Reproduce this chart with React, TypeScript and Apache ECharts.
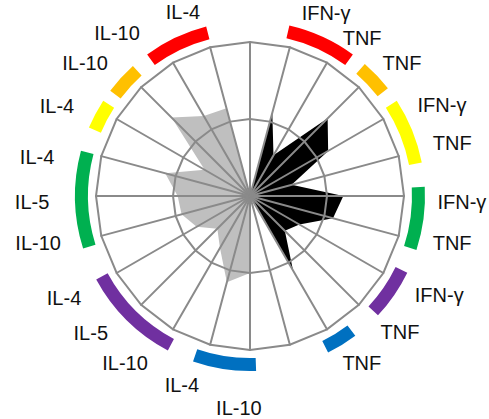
import { useEffect, useRef } from 'react';
import * as echarts from 'echarts';

// 24 spokes, 15° apart, listed clockwise from the top (0°, 15°, ..., 345°)
const SPOKE_COUNT = 24;
const BLACK_VALUES = [
  0, 0.56, 0.305, 0.713, 0.586, 0.28, 0.606, 0.558, 0.37, 0.32, 0.56, 0,
  0, 0, 0, 0, 0, 0, 0, 0, 0, 0, 0, 0,
];
const GREY_VALUES = [
  0, 0, 0, 0, 0, 0, 0, 0, 0, 0, 0, 0,
  0.5, 0.58, 0.39, 0.3, 0.4, 0.46, 0.47, 0.57, 0.34, 0.72, 0.6, 0.59,
];

// coloured ribbons: angular extent (degrees clockwise from top)
const ARC_COLORS = ['#ff0000', '#ffc000', '#ffff00', '#00b050', '#7030a0', '#0070c0',
  '#0070c0', '#7030a0', '#00b050', '#ffff00', '#ffc000', '#ff0000'];
const ARC_FROM = [13, 41, 57, 87, 116, 143, 178, 208, 252.5, 293, 307, 324];
const ARC_TO = [36, 52, 79, 108, 133, 153.5, 199, 241.5, 285, 303, 318, 345.5];

// cytokine labels
const LABEL_TEXTS = [
  'IFN-γ', 'TNF', 'TNF', 'IFN-γ', 'TNF', 'IFN-γ', 'TNF', 'IFN-γ', 'TNF', 'TNF',
  'IL-10', 'IL-4', 'IL-10', 'IL-5', 'IL-4', 'IL-10', 'IL-5', 'IL-4', 'IL-4', 'IL-10', 'IL-10', 'IL-4',
];
// label placement: [angle clockwise from top (deg), distance from centre (px)]
const LABEL_LAYOUT: [number, number][] = [
  [22.6, 198], [35.3, 194], [48.8, 202], [64.6, 212.5], [75.3, 209], [91.6, 212], [103.1, 207.5],
  [117.6, 213.5], [132.2, 202.5], [146.2, 201],
  [183, 212], [199.8, 201], [216.8, 208.6], [229.3, 210], [241.3, 212], [257.5, 217], [268.4, 218],
  [280.4, 216.5], [295, 213], [308.9, 212], [320.8, 210.4], [340, 196],
];

const CX = 250;
const CY = 196;
const RADIUS = 154;

const toRadarOrder = (vals: number[]) =>
  vals.map((_, k) => vals[(SPOKE_COUNT - k) % SPOKE_COUNT]);

export default function App() {
  const ref = useRef<HTMLDivElement>(null);

  useEffect(() => {
    if (!ref.current) return;
    const chart = echarts.init(ref.current, undefined, { renderer: 'svg' });
    const rad = (d: number) => ((d - 90) * Math.PI) / 180;

    const sectors = ARC_COLORS.map((color, i) => ({
      type: 'sector',
      shape: {
        cx: CX,
        cy: CY,
        r0: 162,
        r: 175,
        startAngle: rad(ARC_FROM[i]),
        endAngle: rad(ARC_TO[i]),
        clockwise: true,
      },
      style: { fill: color },
      silent: true,
    }));

    const texts = LABEL_TEXTS.map((t, i) => {
      const [a, r] = LABEL_LAYOUT[i];
      const ar = (a * Math.PI) / 180;
      return {
        type: 'text',
        x: CX + r * Math.sin(ar),
        y: CY - r * Math.cos(ar),
        style: {
          text: t,
          fontSize: 20,
          fontFamily: '"Liberation Sans", Arial, sans-serif',
          fill: '#111',
          align: 'center',
          verticalAlign: 'middle',
          textAlign: 'center',
          textVerticalAlign: 'middle',
        },
        silent: true,
      };
    });

    const indicator = Array.from({ length: SPOKE_COUNT }, (_, k) => ({
      name: String(k),
      min: 0,
      max: 1,
    }));

    chart.setOption({
      animation: false,
      backgroundColor: '#ffffff',
      radar: {
        center: [CX, CY],
        radius: RADIUS,
        startAngle: 90,
        splitNumber: 2,
        shape: 'polygon',
        indicator,
        z: 3,
        axisName: { show: false },
        axisLine: { lineStyle: { color: '#8a8a8a', width: 2 } },
        splitLine: { lineStyle: { color: '#8a8a8a', width: 2 } },
        splitArea: { show: false },
        axisTick: { show: false },
        axisLabel: { show: false },
      },
      series: [
        {
          type: 'radar',
          z: 1,
          symbol: 'none',
          silent: true,
          data: [
            {
              value: toRadarOrder(GREY_VALUES),
              lineStyle: { width: 0, color: '#bfbfbf' },
              areaStyle: { color: '#bfbfbf', opacity: 1 },
              itemStyle: { color: '#bfbfbf' },
            },
            {
              value: toRadarOrder(BLACK_VALUES),
              lineStyle: { width: 0, color: '#000' },
              areaStyle: { color: '#000', opacity: 1 },
              itemStyle: { color: '#000' },
            },
          ],
        },
      ],
      graphic: [...sectors, ...texts],
    });

    return () => chart.dispose();
  }, []);

  return (
    <div
      ref={ref}
      style={{ position: 'fixed', left: 0, top: 0, width: 489, height: 419 }}
    />
  );
}
